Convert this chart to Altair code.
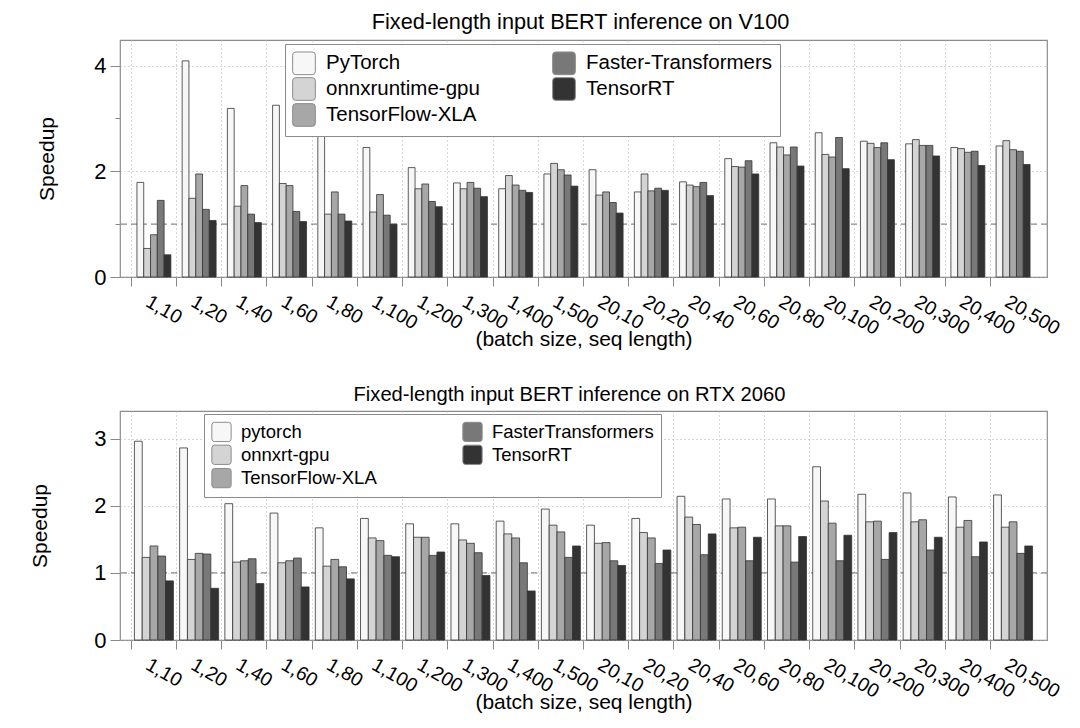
import altair as alt
import pandas as pd

groups = ["1,10", "1,20", "1,40", "1,60", "1,80", "1,100", "1,200", "1,300", "1,400", "1,500",
          "20,10", "20,20", "20,40", "20,60", "20,80", "20,100", "20,200", "20,300", "20,400", "20,500"]

# V100 panel
v100_series = ["PyTorch", "onnxruntime-gpu", "TensorFlow-XLA", "Faster-Transformers", "TensorRT"]
v100_pytorch = [1.79, 4.09, 3.19, 3.25, 2.70, 2.45, 2.07, 1.78, 1.67, 1.95, 2.03, 1.61, 1.80, 2.24, 2.54, 2.73, 2.57, 2.52, 2.45, 2.48]
v100_onnx = [0.54, 1.49, 1.34, 1.77, 1.19, 1.23, 1.67, 1.67, 1.92, 2.15, 1.55, 1.95, 1.74, 2.09, 2.46, 2.32, 2.53, 2.60, 2.43, 2.58]
v100_tf = [0.80, 1.95, 1.73, 1.73, 1.61, 1.56, 1.76, 1.79, 1.74, 2.03, 1.61, 1.63, 1.71, 2.08, 2.31, 2.27, 2.45, 2.49, 2.36, 2.41]
v100_ft = [1.45, 1.28, 1.19, 1.24, 1.19, 1.17, 1.43, 1.68, 1.64, 1.93, 1.41, 1.68, 1.79, 2.20, 2.46, 2.64, 2.54, 2.49, 2.38, 2.38]
v100_trt = [0.42, 1.07, 1.03, 1.05, 1.06, 1.00, 1.33, 1.52, 1.60, 1.72, 1.21, 1.64, 1.54, 1.95, 2.10, 2.05, 2.22, 2.29, 2.11, 2.13]

# RTX 2060 panel
rtx_series = ["pytorch", "onnxrt-gpu", "TensorFlow-XLA", "FasterTransformers", "TensorRT"]
rtx_pytorch = [2.96, 2.86, 2.03, 1.89, 1.67, 1.81, 1.73, 1.73, 1.77, 1.95, 1.71, 1.81, 2.14, 2.10, 2.10, 2.58, 2.17, 2.19, 2.13, 2.16]
rtx_onnx = [1.23, 1.20, 1.16, 1.15, 1.10, 1.52, 1.53, 1.49, 1.58, 1.71, 1.44, 1.60, 1.83, 1.67, 1.70, 2.07, 1.76, 1.76, 1.68, 1.68]
rtx_tf = [1.40, 1.29, 1.18, 1.18, 1.20, 1.48, 1.53, 1.44, 1.52, 1.61, 1.45, 1.52, 1.72, 1.68, 1.70, 1.74, 1.77, 1.79, 1.78, 1.76]
rtx_ft = [1.25, 1.28, 1.21, 1.22, 1.09, 1.26, 1.26, 1.30, 1.15, 1.23, 1.18, 1.14, 1.27, 1.18, 1.16, 1.18, 1.20, 1.34, 1.24, 1.29]
rtx_trt = [0.88, 0.77, 0.84, 0.79, 0.91, 1.24, 1.31, 0.96, 0.73, 1.40, 1.11, 1.34, 1.58, 1.53, 1.54, 1.56, 1.60, 1.53, 1.46, 1.40]

baseline = [1.0]
grays = ["#f7f7f7", "#d4d4d4", "#a7a7a7", "#787878", "#333333"]

FONT = "Liberation Sans"
ROUNDED = "M-0.72,-1H0.72Q1,-1,1,-0.72V0.72Q1,1,0.72,1H-0.72Q-1,1,-1,0.72V-0.72Q-1,-1,-0.72,-1Z"


def panel(title, title_size, title_dx, series, values, y_max, y_ticks, major_mod,
          off_pad, leg, y_title_pad, height):
    rows = []
    for s, vals in zip(series, values):
        for g, v in zip(groups, vals):
            rows.append({"group": g, "series": s, "speedup": v})
    df = pd.DataFrame(rows)

    major = f"abs(datum.value % {major_mod}) < 1e-9"
    yscale = alt.Scale(domain=[0, y_max], nice=False, zero=True)
    yaxis = alt.Axis(
        title="Speedup", values=y_ticks, format="d",
        labelExpr=f"{major} ? datum.label : ''",
        tickSize={"condition": {"test": major, "value": 10}, "value": 5},
        gridOpacity={"condition": {"test": major, "value": 1}, "value": 0},
        grid=True, gridDash=[1, 3], gridColor="#b0b0b0", gridWidth=1,
        tickColor="#888888", domain=False, labelFontSize=22, labelPadding=4,
        titleFontSize=21, titlePadding=y_title_pad,
    )

    ref = alt.Chart(pd.DataFrame({"y": baseline})).mark_rule(
        color="#8a8a8a", strokeDash=[6, 4], strokeWidth=1.2
    ).encode(y=alt.Y("y:Q", scale=yscale, axis=yaxis))

    bars = alt.Chart(df).mark_bar(stroke="#333333", strokeWidth=0.8).encode(
        x=alt.X("group:N", sort=groups,
                scale=alt.Scale(paddingInner=0, paddingOuter=0.25),
                axis=alt.Axis(title="(batch size, seq length)", bandPosition=0,
                              labelOffset=-2, labelAngle=30, labelAlign="left",
                              labelBaseline="top", labelPadding=6, labelFontSize=19.5,
                              labelOverlap=False, labelFlush=False, labelBound=False,
                              tickSize=9, tickColor="#888888", domain=False,
                              grid=True, gridDash=[1, 3], gridColor="#b0b0b0",
                              titleFontSize=21, titlePadding=-9)),
        xOffset=alt.XOffset("series:N", sort=series,
                            scale=alt.Scale(domain=series, paddingInner=0, paddingOuter=off_pad)),
        y=alt.Y("speedup:Q", scale=yscale, axis=yaxis),
        color=alt.Color("series:N",
                        scale=alt.Scale(domain=series, range=grays),
                        legend=alt.Legend(
                            orient="none", legendX=leg["x"], legendY=leg["y"],
                            columns=2, columnPadding=leg["colpad"], rowPadding=leg["rowpad"],
                            symbolType=ROUNDED, symbolSize=leg["symsize"],
                            symbolStrokeColor="#8c8c8c", symbolStrokeWidth=1,
                            labelFontSize=leg["font"], labelOffset=leg["laboff"],
                            labelColor="black", labelLimit=400,
                            padding=7, strokeColor="#8c8c8c", fillColor="white",
                            title=None,
                        )),
    )

    return alt.layer(ref, bars).properties(
        width=927, height=height,
        title=alt.TitleParams(title, fontSize=title_size, fontWeight="normal",
                              offset=6, dx=title_dx, color="black"),
    )


top = panel("Fixed-length input BERT inference on V100", 21.7, -3, v100_series,
            [v100_pytorch, v100_onnx, v100_tf, v100_ft, v100_trt],
            4.485, [0, 1, 2, 3, 4], 2, 0.83,
            {"x": 165, "y": 4, "colpad": 70, "rowpad": -2.2, "symsize": 515,
             "font": 20.5, "laboff": 10},
            36, 237)

bottom = panel("Fixed-length input BERT inference on RTX 2060", 20.2, -14, rtx_series,
               [rtx_pytorch, rtx_onnx, rtx_tf, rtx_ft, rtx_trt],
               3.41, [0, 0.5, 1, 1.5, 2, 2.5, 3], 1, 0.4,
               {"x": 84, "y": 3, "colpad": 83, "rowpad": -1.7, "symsize": 372,
                "font": 18.5, "laboff": 9},
               43.6, 229)

chart = alt.ConcatChart(
    concat=[top, bottom], columns=1, align="none", spacing=33,
).resolve_scale(
    color="independent", xOffset="independent"
).resolve_legend(
    color="independent"
).properties(
    padding={"left": 20, "top": 3, "right": 0, "bottom": 0},
).configure(
    font=FONT,
).configure_view(
    stroke="#8c8c8c", strokeWidth=1.2,
).configure_axis(
    labelColor="black", titleColor="black", titleFontWeight="normal",
)

chart.save("out.html", embed_options={"renderer": "svg", "actions": False})
